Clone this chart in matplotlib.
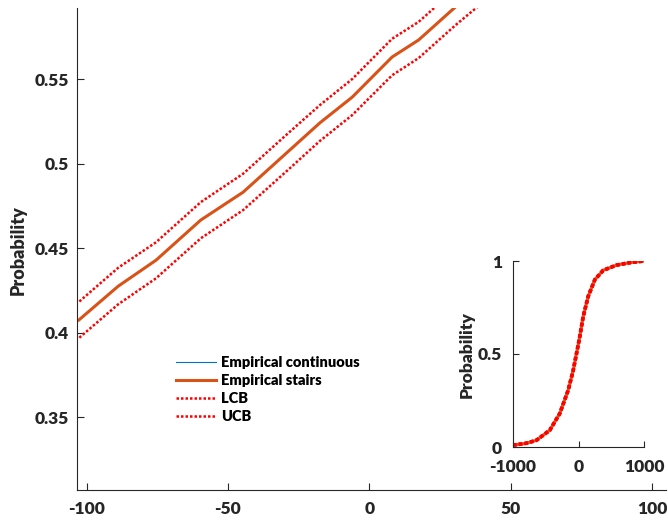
import numpy as np
import matplotlib
matplotlib.use("Agg")
import matplotlib.pyplot as plt

plt.rcParams['font.family'] = ['Lato', 'DejaVu Sans']
plt.rcParams['font.weight'] = 'heavy'

# main view: empirical cdf (zoomed in)
x_main = [-104, -102.8, -88.8, -75.4, -59.6, -44.6, -28.1, -17.5, -6.0, 8.1, 17.5, 30.5, 36, 42]
cdf_main = [0.4066, 0.4074, 0.4275, 0.4429, 0.4666, 0.4831, 0.5080, 0.5240, 0.5393, 0.5630, 0.5731, 0.5926, 0.600, 0.608]
ucb_main = [0.4175, 0.4181, 0.4384, 0.4535, 0.4772, 0.4940, 0.5188, 0.5345, 0.5500, 0.5738, 0.5838, 0.6032, 0.611, 0.619]
lcb_main = [0.3960, 0.3967, 0.4168, 0.4322, 0.4558, 0.4725, 0.4972, 0.5133, 0.5287, 0.5522, 0.5624, 0.5818, 0.5895, 0.5975]

# inset: full range cdf
x_full = [-1000, -800, -643, -439, -286, -158, -82, 10, 71, 148, 250, 378, 582, 800, 1000]
cdf_full = [0.010, 0.020, 0.036, 0.090, 0.180, 0.305, 0.410, 0.575, 0.700, 0.810, 0.900, 0.950, 0.978, 0.992, 1.000]

main_xticks = [-100, -50, 0, 50, 100]
main_yticks = [0.35, 0.4, 0.45, 0.5, 0.55]
inset_xticks = [-1000, 0, 1000]
inset_yticks = [0, 0.5, 1]

blue = '#0072BD'
orange = '#D95319'
dark = '#262626'

fig = plt.figure(figsize=(6.68, 5.22), dpi=100)
ax = fig.add_axes([0.116, 0.0613, 0.881, 0.9234])

ax.plot(x_main, cdf_main, color=blue, lw=0.8, label='Empirical continuous')
ax.plot(x_main, cdf_main, color=orange, lw=2.2, label='Empirical stairs')
ax.plot(x_main, lcb_main, color='red', lw=1.8, ls=(0, (1, 0.8)), label='LCB')
ax.plot(x_main, ucb_main, color='red', lw=1.8, ls=(0, (1, 0.8)), label='UCB')

ax.set_xlim(-103.2, 105)
ax.set_ylim(0.307, 0.592)
ax.set_xticks(main_xticks)
ax.set_xticklabels(['%g' % v for v in main_xticks])
ax.set_yticks(main_yticks)
ax.set_yticklabels(['%g' % v for v in main_yticks])
ax.spines['top'].set_visible(False)
ax.spines['right'].set_visible(False)
for s in ['left', 'bottom']:
    ax.spines[s].set_color(dark)
    ax.spines[s].set_linewidth(0.8)
ax.tick_params(direction='in', length=5, width=0.8, colors=dark, labelsize=12.5)
ax.tick_params(axis='x', pad=8)
ax.tick_params(axis='y', pad=6)

fig.text(18 / 668, 1 - 250 / 522, 'Probability', rotation=90, ha='center', va='center',
         fontsize=13, color=dark)

fig.legend(loc='upper left', bbox_to_anchor=(176 / 668, 1 - 356 / 522),
           frameon=False, fontsize=10.5, handlelength=2.75, handletextpad=0.35,
           labelspacing=0.35, borderpad=0, borderaxespad=0)

# inset
ins = fig.add_axes([513 / 668, 1 - 447 / 522, 131 / 668, 186 / 522])
ins.plot(x_full, cdf_full, color=blue, lw=0.8)
ins.plot(x_full, cdf_full, color=orange, lw=2.2)
ins.plot(x_full, cdf_full, color='red', lw=2.6, ls=(0, (1, 0.6)))
ins.plot(x_full, cdf_full, color='red', lw=2.6, ls=(0, (1, 0.6)))
ins.set_xlim(-1000, 1000)
ins.set_ylim(0, 1)
ins.set_xticks(inset_xticks)
ins.set_xticklabels(['%g' % v for v in inset_xticks])
ins.set_yticks(inset_yticks)
ins.set_yticklabels(['%g' % v for v in inset_yticks])
ins.spines['top'].set_visible(False)
ins.spines['right'].set_visible(False)
for s in ['left', 'bottom']:
    ins.spines[s].set_color(dark)
    ins.spines[s].set_linewidth(0.8)
ins.tick_params(direction='in', length=4, width=0.8, colors=dark, labelsize=12.5)
ins.tick_params(axis='x', pad=9)
ins.tick_params(axis='y', pad=8)
fig.text(467 / 668, 1 - 355 / 522, 'Probability', rotation=90, ha='center', va='center',
         fontsize=12.5, color=dark)

fig.savefig('out.png', dpi=100)
